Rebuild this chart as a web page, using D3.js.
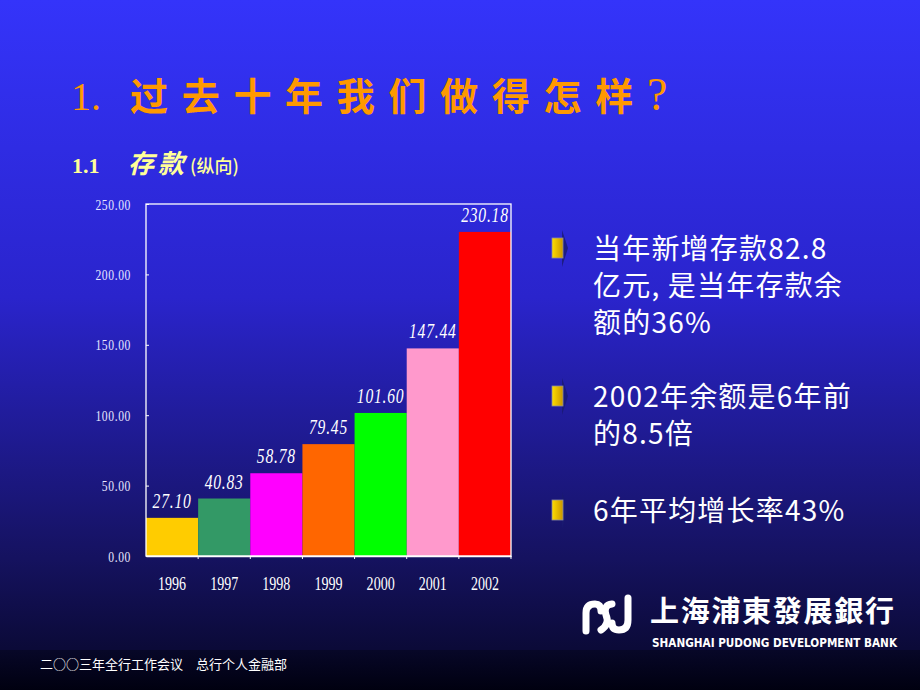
<!DOCTYPE html>
<html lang="zh">
<head>
<meta charset="UTF-8">
<title>存款(纵向)</title>
<script src="https://d3js.org/d3.v7.min.js"></script>
<style>
  body { margin: 0; background: #000; }
  svg { display: block; }
</style>
</head>
<body>
<svg id="slide" width="920" height="690"></svg>
<script>
// chart data
var years = ["1996", "1997", "1998", "1999", "2000", "2001", "2002"];
var deposits = [27.10, 40.83, 58.78, 79.45, 101.60, 147.44, 230.18];
var barColors = ["#ffcc00", "#339966", "#ff00ff", "#ff6600", "#00ff00", "#ff99cc", "#ff0000"];
var yTicks = [0, 50, 100, 150, 200, 250];

// slide text
var bullets = [
  ["当年新增存款82.8", "亿元, 是当年存款余", "额的36%"],
  ["2002年余额是6年前", "的8.5倍"],
  ["6年平均增长率43%"]
];

var svg = d3.select("#slide");
var defs = svg.append("defs");

// background gradient
var bg = defs.append("linearGradient").attr("id", "bg")
  .attr("x1", 0).attr("y1", 0).attr("x2", 0).attr("y2", 1);
bg.append("stop").attr("offset", "0").attr("stop-color", "#3434fa");
bg.append("stop").attr("offset", "0.43").attr("stop-color", "#2a24cc");
bg.append("stop").attr("offset", "0.81").attr("stop-color", "#15125f");
bg.append("stop").attr("offset", "0.94").attr("stop-color", "#0b0a38");
bg.append("stop").attr("offset", "1").attr("stop-color", "#06061e");

var bulletGrad = defs.append("linearGradient").attr("id", "bul")
  .attr("x1", 0).attr("y1", 0).attr("x2", 1).attr("y2", 0);
bulletGrad.append("stop").attr("offset", "0").attr("stop-color", "#ffdd00");
bulletGrad.append("stop").attr("offset", "1").attr("stop-color", "#c89600");

var foot = defs.append("linearGradient").attr("id", "foot")
  .attr("x1", 0).attr("y1", 0).attr("x2", 0).attr("y2", 1);
foot.append("stop").attr("offset", "0").attr("stop-color", "#070728");
foot.append("stop").attr("offset", "1").attr("stop-color", "#000010");

svg.append("rect").attr("width", 920).attr("height", 690).attr("fill", "url(#bg)");
svg.append("rect").attr("y", 650).attr("width", 920).attr("height", 40).attr("fill", "url(#foot)");

// title
var title = svg.append("text")
  .attr("y", 110)
  .attr("fill", "#ff9900")
  .attr("font-weight", "bold");
title.append("tspan").attr("x", 71)
  .attr("font-family", "Liberation Serif").attr("font-size", 40).attr("font-weight", "normal")
  .text("1.");
title.append("tspan").attr("x", 130)
  .attr("font-family", "Noto Sans CJK SC").attr("font-size", 38)
  .attr("letter-spacing", 13.7)
  .text("过去十年我们做得怎样");
title.append("tspan")
  .attr("font-family", "Liberation Serif").attr("font-size", 46).attr("font-weight", "normal")
  .text("?");

// subtitle
var sub = svg.append("text").attr("y", 173).attr("fill", "#ffff99").attr("font-weight", "bold");
sub.append("tspan").attr("x", 72).attr("font-family", "Liberation Serif").attr("font-size", 22).text("1.1");
sub.append("tspan").attr("x", 128).attr("font-family", "Noto Sans CJK SC").attr("font-size", 26)
  .attr("font-style", "italic").attr("letter-spacing", 4).text("存款");
sub.append("tspan").attr("x", 190).attr("font-family", "Noto Sans CJK SC").attr("font-size", 18)
  .attr("font-weight", "500")
  .text("(纵向)");

// chart
var plot = { left: 146, right: 511, top: 204, bottom: 556 };

var x = d3.scaleBand().domain(years).range([plot.left, plot.right]).padding(0);
var y = d3.scaleLinear().domain([0, 250]).range([plot.bottom, plot.top]);

var chart = svg.append("g");

chart.selectAll(".bar")
  .data(deposits)
  .join("rect")
  .attr("class", "bar")
  .attr("x", (d, i) => x(years[i]))
  .attr("y", d => y(d))
  .attr("width", x.bandwidth())
  .attr("height", d => y(0) - y(d))
  .attr("fill", (d, i) => barColors[i]);

// frame
chart.append("rect")
  .attr("x", plot.left).attr("y", plot.top)
  .attr("width", plot.right - plot.left).attr("height", plot.bottom - plot.top)
  .attr("fill", "none").attr("stroke", "#ffffff").attr("stroke-width", 1.3);

// y axis
var yAxis = chart.append("g")
  .attr("transform", "translate(" + plot.left + ",0)")
  .call(d3.axisLeft(y).tickValues(yTicks).tickSize(-3).tickPadding(0).tickFormat(d3.format(".2f")));
yAxis.select(".domain").remove();
yAxis.selectAll(".tick line").attr("stroke", "#ffffff");
yAxis.selectAll(".tick text").remove();
yAxis.selectAll(".tick")
  .append("g")
  .attr("transform", "translate(-15,5) scale(0.75,1)")
  .append("text")
  .attr("text-anchor", "end")
  .attr("fill", "#e8e8ff")
  .attr("font-family", "Liberation Serif")
  .attr("font-size", 15.5)
  .attr("letter-spacing", 0.8)
  .text(d => d3.format(".2f")(d));

// x axis
var xAxis = chart.append("g")
  .attr("transform", "translate(0," + plot.bottom + ")")
  .call(d3.axisBottom(x).tickSize(0).tickFormat(""));
xAxis.select(".domain").attr("stroke", "#ffffff").attr("stroke-width", 1.5);
xAxis.selectAll(".tick").append("line")
  .attr("x1", x.bandwidth() / 2).attr("x2", x.bandwidth() / 2)
  .attr("y1", 0).attr("y2", 3)
  .attr("stroke", "#ffffff");
xAxis.selectAll(".tick")
  .append("g")
  .attr("transform", "translate(0,34) scale(0.72,1)")
  .append("text")
  .attr("text-anchor", "middle")
  .attr("fill", "#ffffff")
  .attr("font-family", "Liberation Serif")
  .attr("font-size", 19.5)
  .text(d => d);

// value labels
chart.selectAll(".val")
  .data(deposits)
  .join("g")
  .attr("class", "val")
  .attr("transform", (d, i) => "translate(" + (x(years[i]) + x.bandwidth() / 2) + "," + (y(d) - 10) + ") scale(0.78,1)")
  .append("text")
  .attr("text-anchor", "middle")
  .attr("fill", "#ffffff")
  .attr("font-family", "Liberation Serif")
  .attr("font-style", "italic")
  .attr("font-size", 20)
  .attr("letter-spacing", 1)
  .text(d => d3.format(".2f")(d));

// bullets
var bulletTops = [259, 407, 521];
var lineGap = 37;
bullets.forEach(function(lines, k) {
  var by = bulletTops[k];
  var g = svg.append("g");
  g.append("path")
    .attr("d", "M562," + (by - 29) + " L568," + (by - 11) + " L562," + (by + 8) + "Z")
    .attr("fill", "#1a1a70").attr("opacity", 0.8);
  g.append("rect")
    .attr("x", 552).attr("y", by - 21).attr("width", 11).attr("height", 20)
    .attr("fill", "url(#bul)").attr("stroke", "#8c8ca0").attr("stroke-width", 0.8);
  g.selectAll("text")
    .data(lines)
    .join("text")
    .attr("x", 593)
    .attr("y", (d, i) => by + i * lineGap)
    .attr("fill", "#ffffff")
    .attr("font-family", "Noto Sans CJK SC")
    .attr("font-size", 28)
    .attr("letter-spacing", 1.2)
    .text(d => d);
});

// bank logo
var logo = svg.append("g")
  .attr("fill", "none").attr("stroke", "#ffffff").attr("stroke-width", 7).attr("stroke-linecap", "round");
logo.append("path").attr("d", "M586,631 L586,613 Q586,604 595,604 Q601,604 601,611");
logo.append("path").attr("d", "M612,604 Q603,605 606,615 Q610,624 601,630");
logo.append("path").attr("d", "M628,598 L628,620 Q628,630 619,630 Q612,630 612,623");

svg.append("text")
  .attr("x", 650).attr("y", 622)
  .attr("fill", "#ffffff")
  .attr("font-family", "Noto Sans CJK TC")
  .attr("font-size", 29)
  .attr("font-weight", "bold")
  .attr("letter-spacing", 1.7)
  .text("上海浦東發展銀行");

svg.append("text")
  .attr("x", 652).attr("y", 647)
  .attr("fill", "#ffffff")
  .attr("font-family", "DejaVu Sans Condensed")
  .attr("font-weight", "bold")
  .attr("font-size", 11.5)
  .attr("textLength", 245)
  .attr("lengthAdjust", "spacingAndGlyphs")
  .text("SHANGHAI PUDONG DEVELOPMENT BANK");

// footer
svg.append("text")
  .attr("x", 40).attr("y", 669)
  .attr("fill", "#ffffff")
  .attr("font-family", "Noto Sans CJK SC")
  .attr("font-size", 13)
  .text("二○○三年全行工作会议　总行个人金融部");
</script>
</body>
</html>
